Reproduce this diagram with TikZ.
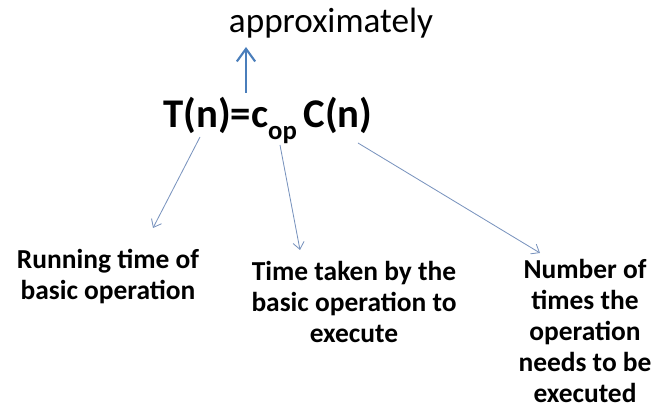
\documentclass[tikz,border=0pt]{standalone}
\usepackage{fontspec}
\setmainfont{Carlito}
\usetikzlibrary{arrows.meta, positioning}

\definecolor{upblue}{RGB}{74,126,187}
\definecolor{thinblue}{RGB}{122,148,190}

\begin{document}
\begin{tikzpicture}[
  x=0.025cm, y=-0.025cm,
  formula/.style = {inner sep=0pt, font=\fontsize{29}{35}\selectfont\bfseries},
  word/.style = {inner sep=0pt, font=\fontsize{25}{30}\selectfont},
  note/.style = {inner sep=0pt, align=center, font=\fontsize{19.5}{22.2}\selectfont\bfseries},
  uparrow/.style = {upblue, line width=1.5pt, -{Straight Barb[length=9pt,width=13pt]}},
  arrow/.style = {thinblue, line width=0.6pt, -{Straight Barb[length=5pt,width=8pt]}}
]
  \useasboundingbox (0,0) rectangle (660,411);

  % Formula
  \node[formula, anchor=base west] (formula) at (163,128)
    {T(n)=c\raisebox{-0.28em}{\fontsize{19}{19}\selectfont op}\,C(n)};

  % Word above
  \node[word, anchor=base] (approx) at (331,33) {approximately};

  % Three notes below (base = last line)
  \node[note, anchor=base] (running) at (108,300) {Running time of\\basic operation};
  \node[note, anchor=base] (taken) at (354,343) {Time taken by the\\basic operation to\\execute};
  \node[note, anchor=base] (count) at (585,403) {Number of\\times the\\operation\\needs to be\\executed};

  % Arrow ends
  \coordinate (upfoot) at (246,93);
  \coordinate (uptip) at (246,47);
  \coordinate (tn) at (200,137);
  \coordinate (cop) at (280,145);
  \coordinate (cn) at (358,143);
  \coordinate (runtip) at (153,228);
  \coordinate (takentip) at (300,250);
  \coordinate (counttip) at (540,253);

  % Formula -> approximately
  \draw[uparrow] (upfoot) -- (uptip);

  % Formula -> notes
  \draw[arrow] (tn) -- (runtip);
  \draw[arrow] (cop) -- (takentip);
  \draw[arrow] (cn) -- (counttip);

\end{tikzpicture}
\end{document}
